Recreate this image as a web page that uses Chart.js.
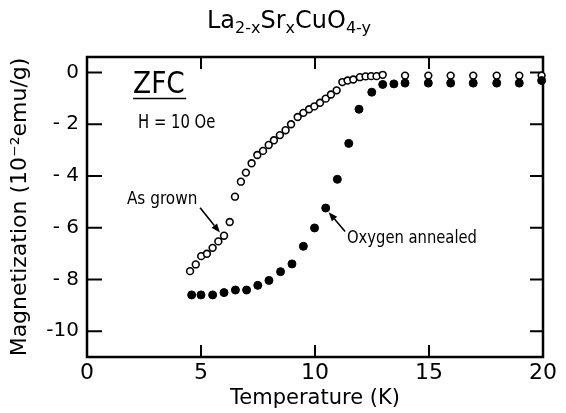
<!DOCTYPE html>
<html lang="en">
<head>
<meta charset="UTF-8">
<title>La2-xSrxCuO4-y ZFC magnetization</title>
<script src="https://cdn.jsdelivr.net/npm/chart.js@4.4.1/dist/chart.umd.min.js"></script>
<style>
  html, body { margin: 0; padding: 0; background: #fff; }
  #box { width: 566px; height: 413px; }
</style>
</head>
<body>
<div id="box"><canvas id="myChart"></canvas></div>

<script>
// values: temperature (K), magnetization (10^-2 emu/g)
const grownT = [4.52, 4.77, 5.01, 5.26, 5.51, 5.76, 6.01, 6.26, 6.49, 6.75,
  6.97, 7.22, 7.47, 7.72, 7.97, 8.2, 8.46, 8.71, 8.95, 9.24,
  9.49, 9.74, 9.97, 10.22, 10.47, 10.7, 10.95, 11.2, 11.43, 11.68,
  11.97, 12.22, 12.46, 12.7, 12.97, 13.95, 14.97, 15.95, 16.94, 17.97, 18.96, 19.94];
const grownM = [-7.68, -7.42, -7.10, -7.01, -6.78, -6.53, -6.31, -5.78, -4.80, -4.22,
  -3.87, -3.51, -3.19, -3.03, -2.80, -2.62, -2.42, -2.23, -2.00, -1.72,
  -1.56, -1.42, -1.31, -1.17, -1.01, -0.85, -0.69, -0.37, -0.31, -0.27,
  -0.18, -0.15, -0.14, -0.14, -0.09, -0.12, -0.12, -0.12, -0.12, -0.12, -0.12, -0.12];

const annealT = [4.59, 5.0, 5.51, 6.01, 6.51, 7.0, 7.49, 7.98, 8.49, 8.99,
  9.49, 9.98, 10.47, 10.98, 11.48, 11.93, 12.49, 12.97, 13.46, 13.95,
  14.97, 15.95, 16.94, 17.97, 18.96, 19.94];
const annealM = [-8.60, -8.60, -8.60, -8.51, -8.41, -8.41, -8.23, -8.04, -7.70, -7.40,
  -6.72, -6.01, -5.24, -4.13, -2.74, -1.42, -0.76, -0.46, -0.44, -0.41,
  -0.41, -0.41, -0.41, -0.41, -0.41, -0.31];

const xTicks = [0, 5, 10, 15, 20];
const yTicks = [0, -2, -4, -6, -8, -10];

const FONT = "'DejaVu Sans', sans-serif";

function pts(xs, ys) {
  return xs.map((x, i) => ({ x: x, y: ys[i] }));
}

// narrow lettering like the original: squeeze the text sideways
function narrowText(ctx, text, x, y, size, squeeze) {
  ctx.save();
  ctx.font = size + 'px ' + FONT;
  ctx.translate(x, y);
  ctx.scale(squeeze, 1);
  ctx.fillText(text, 0, 0);
  ctx.restore();
}

// frame, inward ticks, notes and the title with subscripts
const decor = {
  id: 'decor',
  beforeDatasetsDraw(chart) {
    const { ctx, chartArea: a, scales } = chart;
    ctx.save();
    ctx.strokeStyle = '#000';
    ctx.lineWidth = 2.5;
    ctx.strokeRect(a.left, a.top, a.right - a.left, a.bottom - a.top);
    ctx.lineWidth = 2;
    ctx.beginPath();
    yTicks.forEach(v => {
      const y = scales.y.getPixelForValue(v);
      ctx.moveTo(a.left, y); ctx.lineTo(a.left + 15, y);
      ctx.moveTo(a.right, y); ctx.lineTo(a.right - 13, y);
    });
    xTicks.slice(1, -1).forEach(v => {
      const x = scales.x.getPixelForValue(v);
      ctx.moveTo(x, a.bottom); ctx.lineTo(x, a.bottom - 12);
      ctx.moveTo(x, a.top); ctx.lineTo(x, a.top + 12);
    });
    ctx.stroke();
    ctx.restore();
  },
  afterDatasetsDraw(chart) {
    const { ctx, scales } = chart;
    const px = v => scales.x.getPixelForValue(v);
    const py = v => scales.y.getPixelForValue(v);
    ctx.save();
    ctx.fillStyle = '#000';
    ctx.strokeStyle = '#000';
    ctx.textBaseline = 'alphabetic';

    narrowText(ctx, 'ZFC', px(2.02), py(-0.81), 30, 0.88);
    ctx.lineWidth = 1.5;
    ctx.beginPath();
    ctx.moveTo(px(2.02), py(-1.0)); ctx.lineTo(px(4.35), py(-1.0));
    ctx.stroke();

    narrowText(ctx, 'H = 10 Oe', px(2.24), py(-2.15), 19, 0.78);
    narrowText(ctx, 'As grown', px(1.75), py(-5.08), 18, 0.85);
    narrowText(ctx, 'Oxygen annealed', px(11.4), py(-6.58), 18, 0.82);

    arrow(ctx, px(4.96), py(-5.23), px(5.83), py(-6.19));
    arrow(ctx, px(11.32), py(-6.15), px(10.6), py(-5.4));

    // title La(2-x)Sr(x)CuO(4-y)
    const parts = [['La', 0], ['2-x', 1], ['Sr', 0], ['x', 1], ['CuO', 0], ['4-y', 1]];
    const big = '24px ' + FONT, small = '16px ' + FONT;
    let w = 0;
    parts.forEach(p => { ctx.font = p[1] ? small : big; w += ctx.measureText(p[0]).width; });
    let x = 289 - w / 2;
    parts.forEach(p => {
      ctx.font = p[1] ? small : big;
      ctx.fillText(p[0], x, p[1] ? 33 : 28);
      x += ctx.measureText(p[0]).width;
    });
    ctx.restore();
  }
};

function arrow(ctx, x1, y1, x2, y2) {
  const ang = Math.atan2(y2 - y1, x2 - x1);
  const hl = 9, hw = 3.5;
  ctx.lineWidth = 1.6;
  ctx.beginPath();
  ctx.moveTo(x1, y1);
  ctx.lineTo(x2 - Math.cos(ang) * hl, y2 - Math.sin(ang) * hl);
  ctx.stroke();
  ctx.beginPath();
  ctx.moveTo(x2, y2);
  ctx.lineTo(x2 - Math.cos(ang) * hl - Math.sin(ang) * hw, y2 - Math.sin(ang) * hl + Math.cos(ang) * hw);
  ctx.lineTo(x2 - Math.cos(ang) * hl + Math.sin(ang) * hw, y2 - Math.sin(ang) * hl - Math.cos(ang) * hw);
  ctx.closePath();
  ctx.fill();
}

const data = {
  datasets: [
    {
      label: 'Oxygen annealed',
      data: pts(annealT, annealM),
      pointStyle: 'circle',
      pointRadius: 4,
      pointBorderWidth: 1,
      pointBackgroundColor: '#000',
      pointBorderColor: '#000',
      showLine: false,
      clip: false,
      order: 0
    },
    {
      label: 'As grown',
      data: pts(grownT, grownM),
      pointStyle: 'circle',
      pointRadius: 3.4,
      pointBorderWidth: 1.6,
      pointBackgroundColor: '#fff',
      pointBorderColor: '#000',
      showLine: false,
      clip: false,
      order: 1
    }
  ]
};

const config = {
  type: 'scatter',
  data: data,
  options: {
    responsive: true,
    maintainAspectRatio: false,
    animation: false,
    devicePixelRatio: 1,
    layout: { padding: { left: 0, right: 23, top: 57, bottom: 0 } },
    plugins: { legend: { display: false }, tooltip: { enabled: false } },
    scales: {
      x: {
        type: 'linear',
        min: 0,
        max: 20,
        afterBuildTicks: s => { s.ticks = xTicks.map(v => ({ value: v })); },
        afterFit: s => { s.height = 56; },
        grid: { display: false, drawTicks: false },
        border: { display: false },
        ticks: { color: '#000', font: { family: FONT, size: 22 }, padding: 3, maxRotation: 0 },
        title: { display: true, text: 'Temperature (K)', color: '#000',
          font: { family: FONT, size: 21 }, padding: { top: 0, bottom: 2 } }
      },
      y: {
        type: 'linear',
        min: -11,
        max: 0.6,
        afterBuildTicks: s => { s.ticks = yTicks.map(v => ({ value: v })); },
        afterFit: s => { s.width = 87; },
        grid: { display: false, drawTicks: false },
        border: { display: false },
        ticks: { color: '#000', font: { family: FONT, size: 20 }, padding: 8,
          callback: v => v === 0 ? '0' : (v > -10 ? '- ' + (-v) : String(v)) },
        title: { display: true, text: 'Magnetization (10⁻²emu/g)', color: '#000',
          font: { family: FONT, size: 22 }, padding: { top: 7, bottom: 0 } }
      }
    }
  },
  plugins: [decor]
};

const myChart = new Chart(document.getElementById('myChart'), config);
</script>
</body>
</html>
